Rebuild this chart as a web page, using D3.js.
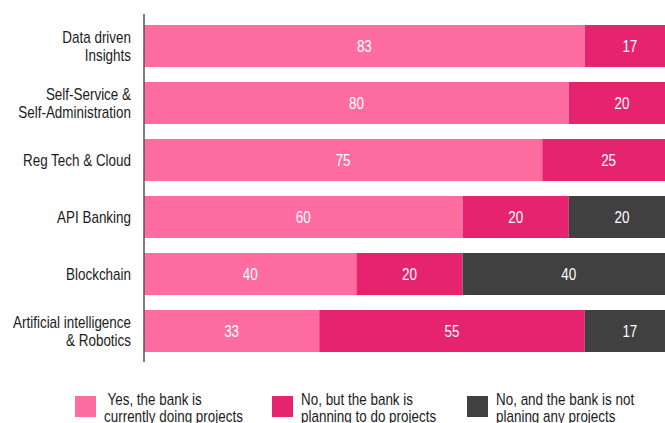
<!DOCTYPE html>
<html>
<head>
<meta charset="utf-8">
<script src="https://cdn.jsdelivr.net/npm/d3@7"></script>
<style>
  html, body { margin: 0; padding: 0; background: #fff; }
  svg text { font-family: "Liberation Sans", Arial, sans-serif; }
</style>
</head>
<body>
<svg id="chart" width="665" height="423"></svg>
<script>
const categories = ["Data driven\nInsights", "Self-Service &\nSelf-Administration", "Reg Tech & Cloud", "API Banking", "Blockchain", "Artificial intelligence\n& Robotics"];
const seriesNames = ["yes", "planning", "notPlanning"];
const yesValues = [83, 80, 75, 60, 40, 33];
const planningValues = [17, 20, 25, 20, 20, 50];
const notPlanningValues = [0, 0, 0, 20, 40, 17];
// printed labels (the chart prints 55 for the AI planning segment although it is drawn narrower)
const yesLabels = ["83", "80", "75", "60", "40", "33"];
const planningLabels = ["17", "20", "25", "20", "20", "55"];
const notPlanningLabels = ["", "", "", "20", "40", "17"];
const legendLabels = [[" Yes, the bank is", "currently doing projects"], ["No, but the bank is", "planning to do projects"], ["No, and the bank is not", "planing any projects"]];
const colors = ["#FF6C9F", "#E5236F", "#404040"];

const SX = 0.84; // condensed look
const svg = d3.select("#chart");
const x = d3.scaleLinear().domain([0, 100]).range([144, 675]);
const y = d3.scaleBand().domain(categories).range([25, 352]).paddingInner(15 / 57).paddingOuter(0);

function ctext(px, py, str, opts) {
  const g = svg.append("g").attr("transform", `translate(${px},${py}) scale(${SX},1)`);
  return g.append("text")
    .attr("x", 0).attr("y", 0)
    .attr("text-anchor", opts.anchor || "start")
    .attr("fill", opts.fill || "#1c1c1c")
    .attr("font-size", opts.size || 16)
    .attr("xml:space", "preserve")
    .text(str);
}

const rows = categories.map((c, i) => ({
  cat: c,
  vals: [yesValues[i], planningValues[i], notPlanningValues[i]],
  labels: [yesLabels[i], planningLabels[i], notPlanningLabels[i]]
}));

rows.forEach(r => {
  let acc = 0;
  r.vals.forEach((v, k) => {
    if (v > 0) {
      const x0 = x(acc), x1 = x(acc + v);
      svg.append("rect")
        .attr("x", x0).attr("y", y(r.cat))
        .attr("width", x1 - x0).attr("height", y.bandwidth())
        .attr("fill", colors[k]);
      ctext((x0 + x1) / 2, y(r.cat) + y.bandwidth() / 2 + 5.8, r.labels[k], {anchor: "middle", fill: "#fff", size: 16});
    }
    acc += v;
  });
});

// category labels
categories.forEach(c => {
  const lines = c.split("\n");
  const cy = y(c) + y.bandwidth() / 2;
  const lh = 18;
  lines.forEach((ln, j) => {
    ctext(131, cy + 5.8 + (j - (lines.length - 1) / 2) * lh, ln, {anchor: "end", size: 16});
  });
});

// vertical axis line
svg.append("line")
  .attr("x1", 144).attr("x2", 144)
  .attr("y1", 14).attr("y2", 362)
  .attr("stroke", "#555").attr("stroke-width", 1.5);

// legend
const legendX = [75, 272, 467];
legendLabels.forEach((lab, k) => {
  svg.append("rect")
    .attr("x", legendX[k]).attr("y", 396)
    .attr("width", 21).attr("height", 21)
    .attr("fill", colors[k]);
  lab.forEach((ln, j) => {
    ctext(legendX[k] + 29, 404.5 + j * 17, ln, {size: 16});
  });
});
</script>
</body>
</html>
